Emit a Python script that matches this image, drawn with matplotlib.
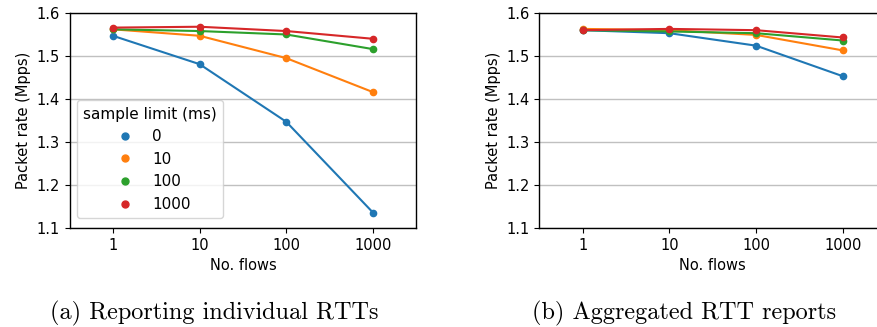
import numpy as np
import matplotlib.pyplot as plt
import matplotlib as mpl

mpl.rcParams["font.size"] = 10.5
mpl.rcParams["axes.linewidth"] = 1.0

flows = ["1", "10", "100", "1000"]
limits = ["0", "10", "100", "1000"]
colors = ["#1f77b4", "#ff7f0e", "#2ca02c", "#d62728"]

# (a) individual RTT reports, one row per sample limit
rate_a = [
    [1.547, 1.481, 1.347, 1.136],
    [1.562, 1.547, 1.495, 1.416],
    [1.562, 1.558, 1.550, 1.516],
    [1.566, 1.568, 1.558, 1.540],
]
err_a = [
    [0.003, 0.002, 0.002, 0.003],
    [0.002, 0.003, 0.004, 0.005],
    [0.002, 0.002, 0.002, 0.002],
    [0.003, 0.003, 0.003, 0.002],
]

# (b) aggregated RTT reports
rate_b = [
    [1.560, 1.553, 1.524, 1.453],
    [1.563, 1.560, 1.549, 1.513],
    [1.560, 1.557, 1.553, 1.536],
    [1.560, 1.563, 1.560, 1.543],
]
err_b = [
    [0.002, 0.002, 0.003, 0.003],
    [0.002, 0.002, 0.002, 0.003],
    [0.002, 0.002, 0.002, 0.003],
    [0.002, 0.003, 0.003, 0.003],
]

fig = plt.figure(figsize=(8.78, 3.27), dpi=100)
ax_a = fig.add_axes([0.0792, 0.3028, 0.3949, 0.6575])
ax_b = fig.add_axes([0.6143, 0.3028, 0.3949, 0.6575])

x = np.arange(len(flows))
for ax, rates, errs in [(ax_a, rate_a, err_a), (ax_b, rate_b, err_b)]:
    for lim, c, r, e in zip(limits, colors, rates, errs):
        ax.errorbar(x, r, yerr=e, color=c, lw=1.5, marker="o", ms=4.5,
                    elinewidth=2.5, capsize=0, label=lim)
    ax.set_xlim(-0.5, 3.5)
    ax.set_ylim(1.1, 1.6)
    ax.set_xticks(x)
    ax.set_xticklabels(flows)
    ax.set_yticks(np.arange(1.1, 1.61, 0.1))
    ax.yaxis.set_major_formatter(mpl.ticker.FormatStrFormatter("%.1f"))
    ax.grid(axis="y", color="#c0c0c0", linewidth=1)
    ax.set_axisbelow(True)
    ax.set_xlabel("No. flows")
    ax.set_ylabel("Packet rate (Mpps)")

handles = [mpl.lines.Line2D([], [], color=c, marker="o", ls="", ms=5) for c in colors]
ax_a.legend(handles, limits, title="sample limit (ms)", loc="lower left",
            bbox_to_anchor=(0.0, 0.01), title_fontsize=11, fontsize=11)

fig.text(0.2443, 0.0245, "(a) Reporting individual RTTs", ha="center",
         va="baseline", family="cmr10", fontsize=17.5)
fig.text(0.7787, 0.0245, "(b) Aggregated RTT reports", ha="center",
         va="baseline", family="cmr10", fontsize=17.5)

plt.savefig("out.png", dpi=100)
